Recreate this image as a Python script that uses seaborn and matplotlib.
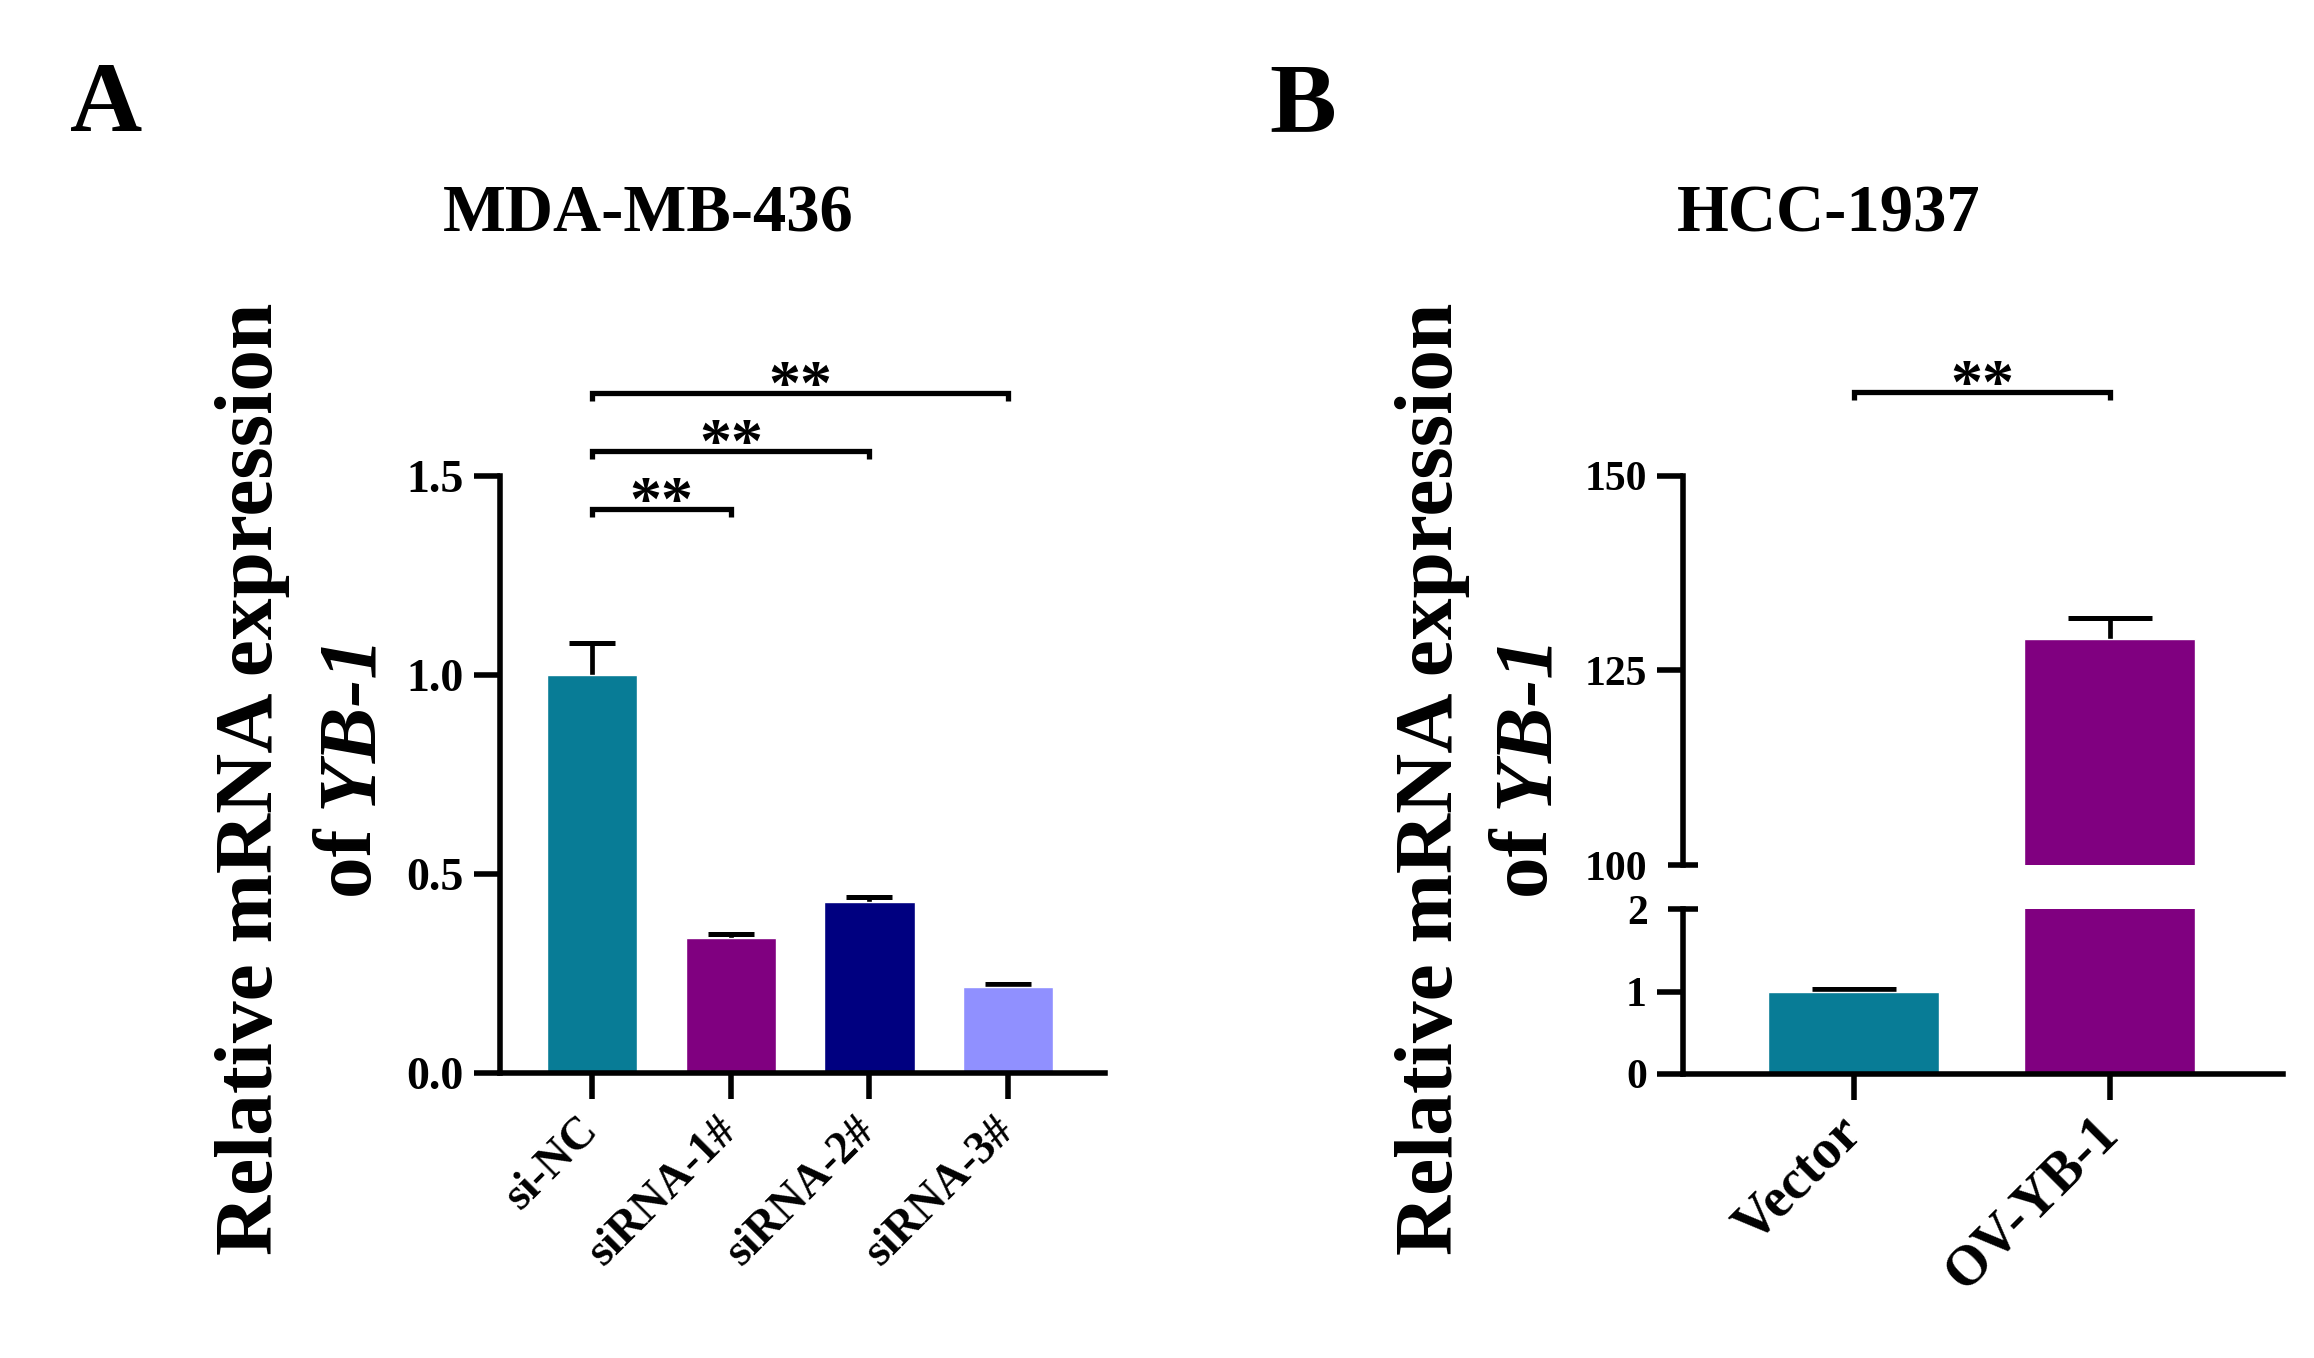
import numpy as np
import pandas as pd
import matplotlib
matplotlib.use("Agg")
import matplotlib.pyplot as plt
import seaborn as sns

# Panel A: YB-1 knockdown in MDA-MB-436
groups_a = ["si-NC", "siRNA-1#", "siRNA-2#", "siRNA-3#"]
mean_a = [1.00, 0.34, 0.43, 0.215]
err_a = [0.08, 0.009, 0.011, 0.009]
colors_a = ["#087C96", "#800080", "#000080", "#9090FF"]
sig_pairs_a = [(0, 1), (0, 2), (0, 3)]
sig_text_a = ["**", "**", "**"]

# Panel B: YB-1 overexpression in HCC-1937
groups_b = ["Vector", "OV-YB-1"]
mean_b = [1.00, 129.1]
err_b = [0.035, 2.7]
colors_b = ["#087C96", "#800080"]
sig_pairs_b = [(0, 1)]
sig_text_b = ["**"]

sns.set_style("ticks")
plt.rcParams["font.family"] = ["Liberation Serif", "DejaVu Serif"]
plt.rcParams["font.weight"] = "bold"
for key in ["text.color", "axes.labelcolor", "axes.edgecolor",
            "xtick.color", "ytick.color"]:
    plt.rcParams[key] = "black"

LW = 4.0
W, H = 2314, 1358
fig = plt.figure(figsize=(W / 100, H / 100), dpi=100)


def box(l, t, r, b):
    return [l / W, 1 - b / H, (r - l) / W, (b - t) / H]


def bars(ax, groups, means, errs, colors, width, capsize):
    df = pd.DataFrame({"group": groups, "value": means})
    sns.barplot(data=df, x="group", y="value", hue="group", palette=colors,
                width=width, saturation=1, legend=False, ax=ax, errorbar=None,
                zorder=2)
    # symmetric bars drawn behind the columns -> only the upper half shows
    ax.errorbar(np.arange(len(groups)), means, yerr=errs, fmt="none",
                ecolor="black", elinewidth=3.4, capsize=capsize, capthick=3.6,
                zorder=1)
    ax.set_xlabel("")
    ax.set_ylabel("")


def bracket(ax, i, j, y, drop, text):
    ax.plot([i, i, j, j], [y - drop, y, y, y - drop], color="black", lw=3.8,
            clip_on=False, solid_capstyle="butt", solid_joinstyle="miter")
    ax.annotate(text, xy=((i + j) / 2, y), xytext=(0, -8),
                textcoords="offset points", ha="center", va="baseline",
                fontsize=46, annotation_clip=False)


def style_axis(ax, ylab_size):
    for s in ax.spines.values():
        s.set_linewidth(LW)
    ax.tick_params(axis="both", which="major", width=LW, length=19)
    ax.tick_params(axis="y", which="major", labelsize=ylab_size, pad=7)


def slant(ax):
    for lab in ax.get_xticklabels():
        lab.set_rotation(45)
        lab.set_ha("right")
        lab.set_va("center")
        lab.set_rotation_mode("anchor")


# ---- Panel A ----
ax_a = fig.add_axes(box(500, 476, 1105, 1073))
bars(ax_a, groups_a, mean_a, err_a, colors_a, 0.65, 16.5)
ax_a.set_ylim(0, 1.5)
ax_a.set_xlim(-0.667, 3.7)
ax_a.set_yticks([0, 0.5, 1.0, 1.5])
ax_a.set_yticklabels(["0.0", "0.5", "1.0", "1.5"])
sns.despine(ax=ax_a)
style_axis(ax_a, 33)
ax_a.tick_params(axis="x", labelsize=33, pad=18)
slant(ax_a)
for k, ((i, j), t) in enumerate(zip(sig_pairs_a, sig_text_a)):
    bracket(ax_a, i, j, 1.417 + 0.146 * k, 0.02, t)

# ---- Panel B (broken y axis) ----
ax_bt = fig.add_axes(box(1683, 476, 2283, 865))
ax_bb = fig.add_axes(box(1683, 909, 2283, 1074))
for ax in (ax_bt, ax_bb):
    bars(ax, groups_b, mean_b, err_b, colors_b, 0.668, 30.5)
    ax.set_xlim(-0.668, 1.676)

ax_bt.set_ylim(100, 150)
ax_bt.set_yticks([125, 150])
ax_bt.set_yticks([100], minor=True)
ax_bt.set_yticklabels(["100"], minor=True)
sns.despine(ax=ax_bt, bottom=True)
style_axis(ax_bt, 30)
ax_bt.tick_params(axis="x", which="both", bottom=False, labelbottom=False)

ax_bb.set_ylim(0, 2)
ax_bb.set_yticks([0, 1])
ax_bb.set_yticks([2], minor=True)
ax_bb.set_yticklabels(["2"], minor=True)
sns.despine(ax=ax_bb)
style_axis(ax_bb, 30)
ax_bb.tick_params(axis="x", labelsize=40, pad=18)
slant(ax_bb)

for ax in (ax_bt, ax_bb):
    ax.tick_params(axis="y", which="minor", direction="inout", length=21,
                   width=LW, labelsize=30, pad=15)

for (i, j), t in zip(sig_pairs_b, sig_text_b):
    bracket(ax_bt, i, j, 160.8, 1.0, t)

# ---- titles, panel letters, y labels ----
fig.text(648 / W, 1 - 215 / H, "MDA-MB-436", fontsize=48, ha="center", va="center")
fig.text(1829 / W, 1 - 215 / H, "HCC-1937", fontsize=48, ha="center", va="center")
fig.text(106 / W, 1 - 107 / H, "A", fontsize=72, ha="center", va="center")
fig.text(1303 / W, 1 - 107 / H, "B", fontsize=72, ha="center", va="center")

fig.canvas.draw()
renderer = fig.canvas.get_renderer()
for x1, x2 in [(252, 352), (1432, 1528)]:
    fig.text(x1 / W, 1 - 779 / H, "Relative mRNA expression", fontsize=60,
             rotation=90, ha="center", va="center")
    part1 = fig.text(x2 / W, 0, "of ", fontsize=60, rotation=90,
                     ha="center", va="bottom")
    part2 = fig.text(x2 / W, 0, "YB-1", fontsize=60, rotation=90,
                     style="italic", ha="center", va="bottom")
    h1 = part1.get_window_extent(renderer).height
    h2 = part2.get_window_extent(renderer).height
    y0 = (H - 765) - (h1 + h2) / 2
    part1.set_y(y0 / H)
    part2.set_y((y0 + h1) / H)

fig.savefig("out.png", dpi=100, facecolor="white")
